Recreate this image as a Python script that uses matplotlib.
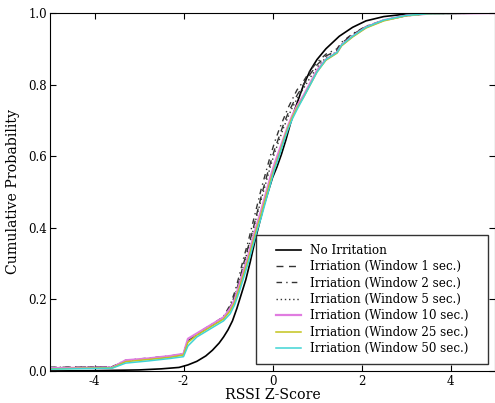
import matplotlib
matplotlib.use("Agg")
import matplotlib.pyplot as plt
from matplotlib.patches import Rectangle

# ---- data ----
z_no = [-5.0, -4.0, -3.0, -2.5, -2.1, -1.9, -1.7, -1.5, -1.35, -1.2, -1.1, -1.0, -0.9, -0.8,
        -0.7, -0.6, -0.5, -0.4, -0.3, -0.2, -0.1, 0.0, 0.1, 0.2, 0.3, 0.4, 0.5, 0.6, 0.7,
        0.85, 1.0, 1.2, 1.5, 1.8, 2.1, 2.5, 3.0, 3.5, 5.0]
p_no = [0.0, 0.001, 0.003, 0.006, 0.01, 0.017, 0.027, 0.042, 0.058, 0.078, 0.095, 0.115,
        0.14, 0.175, 0.215, 0.255, 0.305, 0.36, 0.41, 0.46, 0.50, 0.54, 0.57, 0.605, 0.645,
        0.69, 0.73, 0.765, 0.8, 0.84, 0.87, 0.9, 0.935, 0.96, 0.978, 0.99, 0.997, 1.0, 1.0]

z_irr = [-5.0, -3.6, -3.3, -2.8, -2.3, -2.0, -1.9, -1.7, -1.5, -1.3, -1.1, -0.95, -0.85,
         -0.75, -0.65, -0.55, -0.45, -0.35, -0.25, -0.15, -0.05, 0.05, 0.15, 0.25, 0.35,
         0.45, 0.55, 0.7, 0.85, 1.0, 1.2, 1.45, 1.55, 1.8, 2.1, 2.5, 3.0, 3.5, 5.0]
p_w1 = [0.01, 0.012, 0.028, 0.034, 0.04, 0.046, 0.085, 0.1, 0.118, 0.133, 0.15, 0.18, 0.21,
        0.25, 0.30, 0.345, 0.39, 0.44, 0.49, 0.535, 0.58, 0.62, 0.655, 0.69, 0.72, 0.745,
        0.77, 0.80, 0.83, 0.855, 0.88, 0.895, 0.915, 0.94, 0.962, 0.98, 0.993, 0.998, 1.0]
p_w2 = [0.01, 0.012, 0.03, 0.036, 0.042, 0.048, 0.088, 0.103, 0.12, 0.135, 0.152, 0.185,
        0.22, 0.265, 0.315, 0.36, 0.41, 0.46, 0.51, 0.555, 0.60, 0.64, 0.675, 0.705, 0.735,
        0.76, 0.785, 0.81, 0.84, 0.862, 0.885, 0.9, 0.918, 0.942, 0.963, 0.98, 0.993, 0.998, 1.0]
p_w5 = [0.008, 0.011, 0.028, 0.034, 0.04, 0.046, 0.086, 0.1, 0.117, 0.132, 0.148, 0.178,
        0.208, 0.25, 0.295, 0.34, 0.385, 0.435, 0.48, 0.525, 0.57, 0.61, 0.645, 0.68, 0.71,
        0.737, 0.76, 0.79, 0.82, 0.848, 0.875, 0.892, 0.912, 0.937, 0.96, 0.979, 0.992, 0.998, 1.0]
p_w10 = [0.008, 0.01, 0.03, 0.035, 0.042, 0.048, 0.09, 0.105, 0.12, 0.135, 0.15, 0.175, 0.2,
         0.24, 0.28, 0.32, 0.365, 0.41, 0.45, 0.495, 0.54, 0.58, 0.615, 0.65, 0.685, 0.715,
         0.74, 0.77, 0.805, 0.84, 0.87, 0.89, 0.91, 0.935, 0.96, 0.98, 0.993, 0.998, 1.0]
p_w25 = [0.006, 0.009, 0.026, 0.032, 0.038, 0.045, 0.08, 0.1, 0.115, 0.13, 0.145, 0.168,
         0.192, 0.23, 0.27, 0.31, 0.355, 0.40, 0.44, 0.485, 0.53, 0.57, 0.605, 0.645, 0.68,
         0.71, 0.735, 0.765, 0.80, 0.835, 0.868, 0.888, 0.908, 0.933, 0.958, 0.978, 0.992, 0.998, 1.0]
p_w50 = [0.005, 0.008, 0.022, 0.028, 0.035, 0.04, 0.07, 0.095, 0.11, 0.125, 0.14, 0.16,
         0.185, 0.22, 0.26, 0.30, 0.345, 0.39, 0.43, 0.475, 0.52, 0.565, 0.60, 0.64, 0.675,
         0.705, 0.73, 0.765, 0.80, 0.835, 0.87, 0.89, 0.91, 0.935, 0.96, 0.98, 0.993, 0.998, 1.0]

labels = ["No Irritation", "Irriation (Window 1 sec.)", "Irriation (Window 2 sec.)",
          "Irriation (Window 5 sec.)", "Irriation (Window 10 sec.)",
          "Irriation (Window 25 sec.)", "Irriation (Window 50 sec.)"]
x_ticks = [-4, -2, 0, 2, 4]
y_ticks = [0.0, 0.2, 0.4, 0.6, 0.8, 1.0]

# ---- figure ----
plt.rcParams['font.family'] = ['DejaVu Serif']
plt.rcParams['xtick.direction'] = 'in'
plt.rcParams['ytick.direction'] = 'in'
plt.rcParams['axes.unicode_minus'] = False

fig = plt.figure(figsize=(4.95, 4.03), dpi=100)
ax = fig.add_axes([50 / 495, 32 / 403, 445 / 495, 358 / 403])

series = [
    (z_no, p_no, dict(color='black', lw=1.2, ls='-')),
    (z_irr, p_w1, dict(color='#333333', lw=1.0, ls=(0, (5, 4)))),
    (z_irr, p_w2, dict(color='#333333', lw=1.0, ls=(0, (4, 3, 1, 3)))),
    (z_irr, p_w5, dict(color='#333333', lw=1.0, ls=(0, (1, 2)))),
    (z_irr, p_w10, dict(color='#e07ce0', lw=1.6, ls='-')),
    (z_irr, p_w25, dict(color='#c4c41c', lw=1.1, ls='-')),
    (z_irr, p_w50, dict(color='#40d4d4', lw=1.1, ls='-')),
]
for (zs, ps, st), lab in zip(series, labels):
    ax.plot(zs, ps, label=lab, **st)

ax.set_xlim(-5, 5)
ax.set_ylim(0, 1)
ax.set_xticks(x_ticks)
ax.set_yticks(y_ticks)
ax.set_xticklabels([f"{t}" for t in x_ticks])
ax.set_yticklabels([f"{t:.1f}" for t in y_ticks])
ax.tick_params(top=True, right=True, labelsize=8.5, length=4, width=0.8)
ax.tick_params(axis='y', pad=2)
ax.tick_params(axis='x', pad=3)
ax.set_xlabel("RSSI Z-Score", fontsize=10.2, labelpad=0)
ax.set_ylabel("Cumulative Probability", fontsize=10.2, labelpad=6)

leg = ax.legend(loc='lower right', bbox_to_anchor=((477 - 50) / 445, 7 / 358),
                borderaxespad=0, fontsize=8.6, frameon=False, handlelength=2.1,
                handletextpad=0.7, labelspacing=0.28, borderpad=0.75)
fig.canvas.draw()
bb = leg.get_window_extent()
pad_x = 11
x0, y0 = fig.transFigure.inverted().transform((bb.x0 - pad_x, bb.y0))
x1, y1 = fig.transFigure.inverted().transform((bb.x1 + pad_x, bb.y1))
frame = Rectangle((x0, y0), x1 - x0, y1 - y0, transform=fig.transFigure,
                  facecolor='white', edgecolor='#333333', lw=1.0, zorder=4)
fig.add_artist(frame)
leg.set_zorder(5)
fig.add_artist(leg)

fig.savefig("out.png", dpi=100)
